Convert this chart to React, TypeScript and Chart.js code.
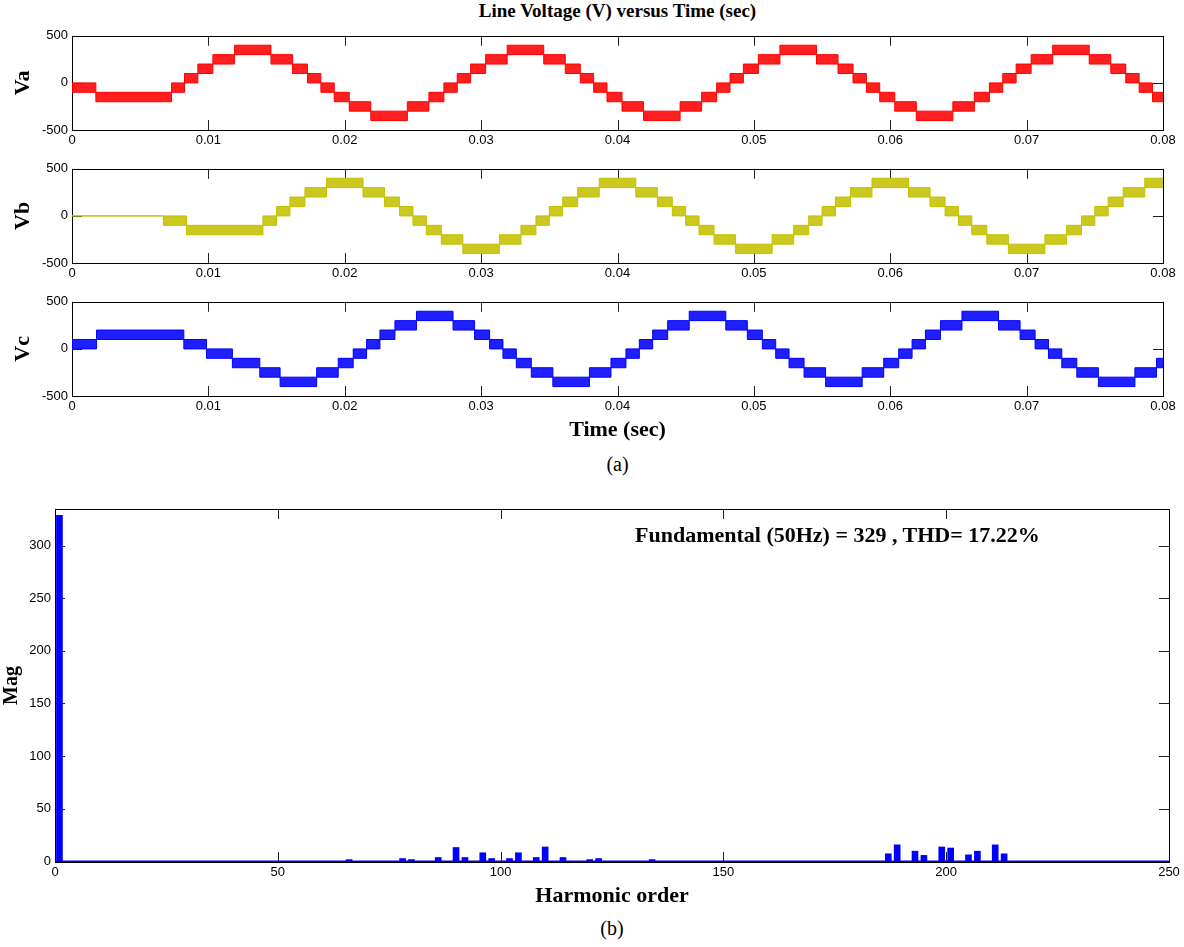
import { useEffect, useRef } from 'react';
import { Chart, registerables } from 'chart.js';

Chart.register(...registerables);

// ---------------- data ----------------
const timeTicks = [0, 0.01, 0.02, 0.03, 0.04, 0.05, 0.06, 0.07, 0.08];
const timeTickLabels = ['0', '0.01', '0.02', '0.03', '0.04', '0.05', '0.06', '0.07', '0.08'];
const voltTicks = [-500, 0, 500];
const voltTickLabels = ['-500', '0', '500'];

// switching bands: start time (ms), band bottom level (V), band top level (V)
const vaTimeMs = [0, 1.75, 7.3,
  8.25, 9.23, 10.33, 11.91, 14.59, 16.17, 17.27, 18.25, 19.23, 20.33, 21.91, 24.59, 26.17, 27.27,
  28.25, 29.23, 30.33, 31.91, 34.59, 36.17, 37.27, 38.25, 39.23, 40.33, 41.91, 44.59, 46.17, 47.27,
  48.25, 49.23, 50.33, 51.91, 54.59, 56.17, 57.27, 58.25, 59.23, 60.33, 61.91, 64.59, 66.17, 67.27,
  68.25, 69.23, 70.33, 71.91, 74.59, 76.17, 77.27, 78.25, 79.23, 80];
const vaLow = [-100, -200, -100,
  0, 100, 200, 300, 200, 100, 0, -100, -200, -300, -400, -300, -200, -100,
  0, 100, 200, 300, 200, 100, 0, -100, -200, -300, -400, -300, -200, -100,
  0, 100, 200, 300, 200, 100, 0, -100, -200, -300, -400, -300, -200, -100,
  0, 100, 200, 300, 200, 100, 0, -100, -200, -200];
const vaHigh = [0, -100, 0,
  100, 200, 300, 400, 300, 200, 100, 0, -100, -200, -300, -200, -100, 0,
  100, 200, 300, 400, 300, 200, 100, 0, -100, -200, -300, -200, -100, 0,
  100, 200, 300, 400, 300, 200, 100, 0, -100, -200, -300, -200, -100, 0,
  100, 200, 300, 400, 300, 200, 100, 0, -100, -100];

const vbTimeMs = [0, 6.7, 8.4, 14.0,
  15.0, 15.98, 17.08, 18.66, 21.34, 22.92, 24.02, 25.0, 25.98, 27.08, 28.66, 31.34, 32.92, 34.02,
  35.0, 35.98, 37.08, 38.66, 41.34, 42.92, 44.02, 45.0, 45.98, 47.08, 48.66, 51.34, 52.92, 54.02,
  55.0, 55.98, 57.08, 58.66, 61.34, 62.92, 64.02, 65.0, 65.98, 67.08, 68.66, 71.34, 72.92, 74.02,
  75.0, 75.98, 77.08, 78.66, 80];
const vbLow = [0, -100, -200, -100,
  0, 100, 200, 300, 200, 100, 0, -100, -200, -300, -400, -300, -200, -100,
  0, 100, 200, 300, 200, 100, 0, -100, -200, -300, -400, -300, -200, -100,
  0, 100, 200, 300, 200, 100, 0, -100, -200, -300, -400, -300, -200, -100,
  0, 100, 200, 300, 300];
const vbHigh = [0, 0, -100, 0,
  100, 200, 300, 400, 300, 200, 100, 0, -100, -200, -300, -200, -100, 0,
  100, 200, 300, 400, 300, 200, 100, 0, -100, -200, -300, -200, -100, 0,
  100, 200, 300, 400, 300, 200, 100, 0, -100, -200, -300, -200, -100, 0,
  100, 200, 300, 400, 400];

const vcTimeMs = [0, 1.8, 8.2, 9.86, 11.76, 13.77, 15.26, 17.94, 19.52, 20.62,
  21.6, 22.58, 23.68, 25.26, 27.94, 29.52, 30.62, 31.6, 32.58, 33.68, 35.26, 37.94, 39.52, 40.62,
  41.6, 42.58, 43.68, 45.26, 47.94, 49.52, 50.62, 51.6, 52.58, 53.68, 55.26, 57.94, 59.52, 60.62,
  61.6, 62.58, 63.68, 65.26, 67.94, 69.52, 70.62, 71.6, 72.58, 73.68, 75.26, 77.94, 79.52, 80];
const vcLow = [0, 100, 0, -100, -200, -300, -400, -300, -200, -100,
  0, 100, 200, 300, 200, 100, 0, -100, -200, -300, -400, -300, -200, -100,
  0, 100, 200, 300, 200, 100, 0, -100, -200, -300, -400, -300, -200, -100,
  0, 100, 200, 300, 200, 100, 0, -100, -200, -300, -400, -300, -200, -200];
const vcHigh = [100, 200, 100, 0, -100, -200, -300, -200, -100, 0,
  100, 200, 300, 400, 300, 200, 100, 0, -100, -200, -300, -200, -100, 0,
  100, 200, 300, 400, 300, 200, 100, 0, -100, -200, -300, -200, -100, 0,
  100, 200, 300, 400, 300, 200, 100, 0, -100, -200, -300, -200, -100, -100];

const harmonicOrder = [1, 66, 78, 80, 86, 90, 92, 96, 98, 102, 104, 108, 110, 114, 120, 122, 134,
  187, 189, 193, 195, 199, 201, 205, 207, 211, 213];
const harmonicMag = [329, 1.5, 2.5, 1.5, 3.5, 13, 3.5, 8, 2.5, 2.5, 8, 3.5, 13.5, 3.5, 1.5, 2.5, 1.5,
  7, 15.5, 9.5, 5.5, 13.5, 12.5, 6, 9.5, 15.5, 7];
const harmonicTicks = [0, 50, 100, 150, 200, 250];
const harmonicTickLabels = ['0', '50', '100', '150', '200', '250'];
const magTicks = [0, 50, 100, 150, 200, 250, 300];
const magTickLabels = ['0', '50', '100', '150', '200', '250', '300'];

// ---------------- styling ----------------
const SERIF = "'Liberation Serif', 'Times New Roman', Times, serif";
const SANS = "'Liberation Sans', Arial, Helvetica, sans-serif";
const W = 1184;

const framePlugin = {
  id: 'matlabFrame',
  beforeDatasetsDraw(chart: any) {
    const { ctx, chartArea: a, scales } = chart;
    const xs = scales.x;
    const ys = scales.y;
    const L = 10;
    ctx.save();
    ctx.strokeStyle = '#222';
    ctx.lineWidth = 1;
    ctx.beginPath();
    xs.ticks.forEach((t: any) => {
      const px = Math.round(xs.getPixelForValue(t.value)) + 0.5;
      ctx.moveTo(px, a.bottom);
      ctx.lineTo(px, a.bottom - L);
      ctx.moveTo(px, a.top);
      ctx.lineTo(px, a.top + L);
    });
    ys.ticks.forEach((t: any) => {
      const py = Math.round(ys.getPixelForValue(t.value)) + 0.5;
      ctx.moveTo(a.left, py);
      ctx.lineTo(a.left + L, py);
      ctx.moveTo(a.right, py);
      ctx.lineTo(a.right - L, py);
    });
    ctx.stroke();
    ctx.strokeStyle = '#000';
    ctx.strokeRect(Math.round(a.left) + 0.5, Math.round(a.top) + 0.5,
      Math.round(a.right - a.left), Math.round(a.bottom - a.top));
    ctx.restore();
  },
};

function tickFont() {
  return { family: SANS, size: 13 };
}

function waveConfig(t: number[], lo: number[], hi: number[], color: string, fill: string,
  name: string, xTitle: string | null, xAxisHeight: number): any {
  const lowPts = t.map((v, i) => ({ x: v / 1000, y: lo[i] }));
  const highPts = t.map((v, i) => ({ x: v / 1000, y: hi[i] }));
  return {
    type: 'line',
    data: {
      datasets: [
        { data: lowPts, borderColor: color, borderWidth: 1, pointRadius: 0, stepped: true, fill: false },
        { data: highPts, borderColor: color, borderWidth: 1, pointRadius: 0, stepped: true, fill: '-1', backgroundColor: fill },
      ],
    },
    options: {
      animation: false,
      responsive: false,
      events: [],
      layout: { padding: { left: 0, right: 21, top: 10, bottom: 0 } },
      plugins: { legend: { display: false }, tooltip: { enabled: false }, title: { display: false } },
      scales: {
        x: {
          type: 'linear', min: 0, max: 0.08,
          afterBuildTicks: (s: any) => { s.ticks = timeTicks.map((v) => ({ value: v })); },
          afterFit: (s: any) => { s.height = xAxisHeight; },
          ticks: { callback: (_v: any, i: number) => timeTickLabels[i], font: tickFont(), color: '#000', padding: 3, autoSkip: false, maxRotation: 0 },
          grid: { display: false, drawTicks: false },
          border: { display: false },
          title: xTitle
            ? { display: true, text: xTitle, color: '#000', font: { family: SERIF, size: 22, weight: 'bold' }, padding: { top: 0, bottom: 2 } }
            : { display: false },
        },
        y: {
          type: 'linear', min: -500, max: 500,
          afterBuildTicks: (s: any) => { s.ticks = voltTicks.map((v) => ({ value: v })); },
          afterFit: (s: any) => { s.width = 72; },
          ticks: { callback: (_v: any, i: number) => voltTickLabels[i], font: tickFont(), color: '#000', padding: 4, autoSkip: false },
          grid: { display: false, drawTicks: false },
          border: { display: false },
          title: { display: true, text: name, color: '#000', font: { family: SERIF, size: 22, weight: 'bold' }, padding: { top: 10, bottom: 0 } },
        },
      },
    },
    plugins: [framePlugin],
  };
}

function spectrumConfig(): any {
  const bars = harmonicOrder.map((h, i) => ({ x: h, y: harmonicMag[i] }));
  return {
    type: 'bar',
    data: {
      datasets: [
        { type: 'bar', data: bars, backgroundColor: '#0000FF', borderWidth: 0, barThickness: 6 },
        { type: 'line', data: [{ x: 0, y: 0 }, { x: 250, y: 0 }], borderColor: '#0000FF', borderWidth: 1.5, pointRadius: 0, fill: false },
      ],
    },
    options: {
      animation: false,
      responsive: false,
      events: [],
      layout: { padding: { left: 0, right: 15, top: 12, bottom: 0 } },
      plugins: { legend: { display: false }, tooltip: { enabled: false }, title: { display: false } },
      scales: {
        x: {
          type: 'linear', min: 0, max: 250, offset: false,
          afterBuildTicks: (s: any) => { s.ticks = harmonicTicks.map((v) => ({ value: v })); },
          afterFit: (s: any) => { s.height = 48; },
          ticks: { callback: (_v: any, i: number) => harmonicTickLabels[i], font: tickFont(), color: '#000', padding: 3, autoSkip: false, maxRotation: 0 },
          grid: { display: false, drawTicks: false, offset: false },
          border: { display: false },
          title: { display: true, text: 'Harmonic order', color: '#000', font: { family: SERIF, size: 22, weight: 'bold' }, padding: { top: 0, bottom: 0 } },
        },
        y: {
          type: 'linear', min: -0.8, max: 335,
          afterBuildTicks: (s: any) => { s.ticks = magTicks.map((v) => ({ value: v })); },
          afterFit: (s: any) => { s.width = 55; },
          ticks: { callback: (_v: any, i: number) => magTickLabels[i], font: tickFont(), color: '#000', padding: 4, autoSkip: false },
          grid: { display: false, drawTicks: false },
          border: { display: false },
          title: { display: true, text: 'Mag', color: '#000', font: { family: SERIF, size: 20, weight: 'bold' }, padding: { top: 0, bottom: 0 } },
        },
      },
    },
    plugins: [framePlugin],
  };
}

const abs = (left: number, top: number, extra: any = {}): any => ({ position: 'absolute', left, top, ...extra });

export default function App() {
  const vaRef = useRef<HTMLCanvasElement>(null);
  const vbRef = useRef<HTMLCanvasElement>(null);
  const vcRef = useRef<HTMLCanvasElement>(null);
  const spRef = useRef<HTMLCanvasElement>(null);

  useEffect(() => {
    const charts: Chart[] = [];
    charts.push(new Chart(vaRef.current!, waveConfig(vaTimeMs, vaLow, vaHigh, '#FF0000', 'rgba(255,0,0,0.88)', 'Va', null, 20)));
    charts.push(new Chart(vbRef.current!, waveConfig(vbTimeMs, vbLow, vbHigh, '#C4C000', 'rgba(196,192,0,0.88)', 'Vb', null, 20)));
    charts.push(new Chart(vcRef.current!, waveConfig(vcTimeMs, vcLow, vcHigh, '#0000FF', 'rgba(0,0,255,0.88)', 'Vc', 'Time (sec)', 50)));
    charts.push(new Chart(spRef.current!, spectrumConfig()));
    return () => { charts.forEach((c) => c.destroy()); };
  }, []);

  const serifBold = (size: number) => ({ fontFamily: SERIF, fontWeight: 'bold', fontSize: size, lineHeight: `${size}px`, color: '#000', whiteSpace: 'nowrap' });

  return (
    <div style={{ position: 'absolute', left: 0, top: 0, width: W, height: 947, background: '#fff', overflow: 'hidden' }}>
      <div style={abs(72, 1, { width: 1091, textAlign: 'center', ...serifBold(19) })}>Line Voltage (V) versus Time (sec)</div>
      <canvas ref={vaRef} width={W} height={126} style={abs(0, 24)} />
      <canvas ref={vbRef} width={W} height={126} style={abs(0, 157)} />
      <canvas ref={vcRef} width={W} height={156} style={abs(0, 290)} />
      <div style={abs(72, 454, { width: 1091, textAlign: 'center', fontFamily: SERIF, fontSize: 20, lineHeight: '20px', color: '#000' })}>(a)</div>
      <canvas ref={spRef} width={W} height={413} style={abs(0, 497)} />
      <div style={abs(635, 524, serifBold(22))}>Fundamental (50Hz) = 329 , THD= 17.22%</div>
      <div style={abs(55, 918, { width: 1114, textAlign: 'center', fontFamily: SERIF, fontSize: 20, lineHeight: '20px', color: '#000' })}>(b)</div>
    </div>
  );
}
